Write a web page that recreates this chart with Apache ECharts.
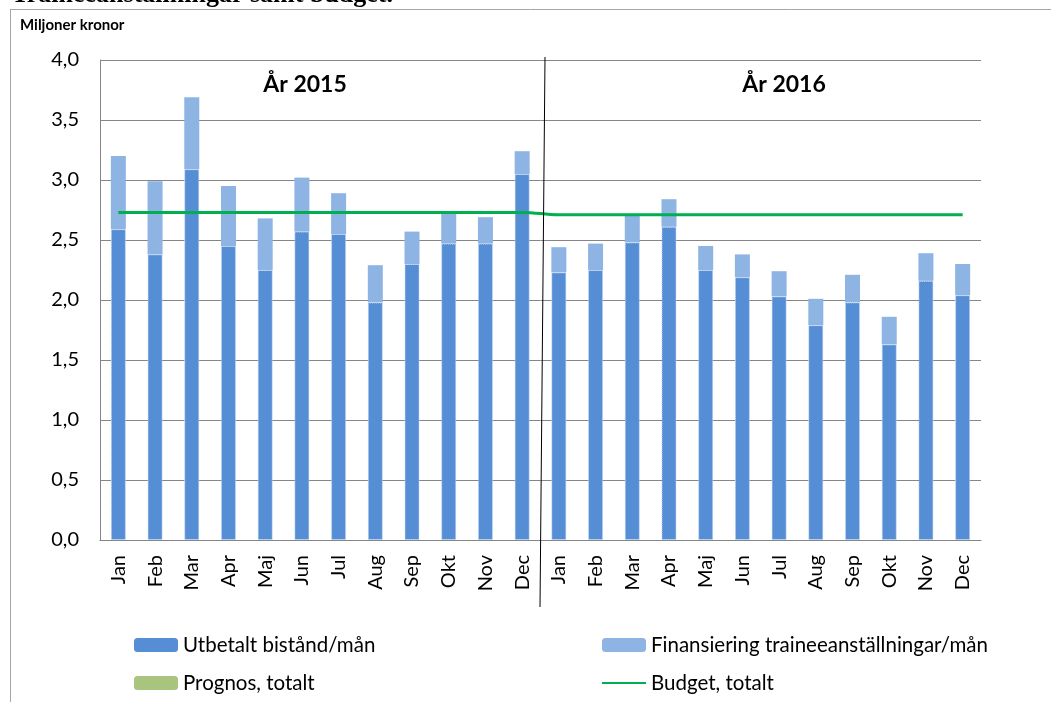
<!DOCTYPE html>
<html>
<head>
<meta charset="utf-8">
<script src="https://cdn.jsdelivr.net/npm/echarts@6/dist/echarts.min.js"></script>
<style>
  html, body { margin: 0; padding: 0; background: #fff; }
  #chart { width: 1051px; height: 702px; }
</style>
</head>
<body>
<div id="chart"></div>
<script>
var months = ['Jan', 'Feb', 'Mar', 'Apr', 'Maj', 'Jun', 'Jul', 'Aug', 'Sep', 'Okt', 'Nov', 'Dec',
  'Jan', 'Feb', 'Mar', 'Apr', 'Maj', 'Jun', 'Jul', 'Aug', 'Sep', 'Okt', 'Nov', 'Dec'];

// utbetalt bistånd per månad (mkr)
var utbetalt = [2.59, 2.38, 3.09, 2.45, 2.25, 2.57, 2.55, 1.98, 2.30, 2.47, 2.47, 3.05,
  2.23, 2.25, 2.48, 2.61, 2.25, 2.19, 2.03, 1.79, 1.98, 1.63, 2.16, 2.04];

// totalnivå (utbetalt + finansiering), finansiering räknas som skillnad
var totalt = [3.20, 2.99, 3.69, 2.95, 2.68, 3.02, 2.89, 2.29, 2.57, 2.73, 2.69, 3.24,
  2.44, 2.47, 2.70, 2.84, 2.45, 2.38, 2.24, 2.01, 2.21, 1.86, 2.39, 2.30];

var finansiering = totalt.map(function (t, i) { return +(t - utbetalt[i]).toFixed(2); });

var prognos = [];

var budget = [2.73, 2.73, 2.73, 2.73, 2.73, 2.73, 2.73, 2.73, 2.73, 2.73, 2.73, 2.73,
  2.71, 2.71, 2.71, 2.71, 2.71, 2.71, 2.71, 2.71, 2.71, 2.71, 2.71, 2.71];

var yTicks = { min: 0, max: 4, interval: 0.5 };

var font = 'Lato, "Open Sans", sans-serif';
var chart = echarts.init(document.getElementById('chart'));

var legendBase = {
  orient: 'vertical', top: 634, padding: 0, itemWidth: 44, itemHeight: 14, itemGap: 16,
  itemStyle: { borderWidth: 0 },
  textStyle: { color: '#000', fontSize: 20.5, fontFamily: font, lineHeight: 22 }
};

var option = {
  animation: false,
  grid: { left: 100, right: 70, top: 60, bottom: 162 },
  xAxis: {
    type: 'category',
    data: months,
    axisLine: { lineStyle: { color: '#868686', width: 1 } },
    axisTick: { show: false },
    axisLabel: { rotate: 90, margin: 15, color: '#000', fontSize: 20, fontFamily: font, interval: 0 }
  },
  yAxis: {
    type: 'value',
    min: yTicks.min,
    max: yTicks.max,
    interval: yTicks.interval,
    axisLine: { show: true, lineStyle: { color: '#868686', width: 1 } },
    axisTick: { show: false },
    splitLine: { lineStyle: { color: '#868686', width: 1 } },
    axisLabel: {
      margin: 21, color: '#000', fontSize: 20, fontFamily: font,
      formatter: function (v) { return v.toFixed(1).replace('.', ','); }
    }
  },
  legend: [
    Object.assign({}, legendBase, {
      left: 134,
      data: ['Utbetalt bistånd/mån', 'Prognos, totalt']
    }),
    Object.assign({}, legendBase, {
      left: 601,
      data: ['Finansiering traineeanställningar/mån',
        { name: 'Budget, totalt', itemStyle: { color: 'rgba(0,0,0,0)', borderWidth: 0 } }]
    })
  ],
  series: [
    {
      name: 'Utbetalt bistånd/mån',
      type: 'bar',
      stack: 'total',
      barWidth: 15,
      data: utbetalt,
      itemStyle: { color: '#558ed5', borderColor: '#c6d9f1', borderWidth: 1, borderType: 'dotted' }
    },
    {
      name: 'Finansiering traineeanställningar/mån',
      type: 'bar',
      stack: 'total',
      barWidth: 15,
      data: finansiering,
      itemStyle: { color: '#8eb4e3' }
    },
    {
      name: 'Prognos, totalt',
      type: 'bar',
      stack: 'total',
      barWidth: 15,
      data: prognos,
      itemStyle: { color: '#a9c47f' }
    },
    {
      name: 'Budget, totalt',
      type: 'line',
      data: budget,
      symbol: 'none',
      smooth: 0.4,
      lineStyle: { color: '#00b050', width: 3 },
      itemStyle: { color: '#00b050' }
    }
  ],
  graphic: [
    { type: 'line', shape: { x1: 10.5, y1: 10, x2: 10.5, y2: 702 }, style: { stroke: '#a6a6a6', lineWidth: 1 } },
    { type: 'line', shape: { x1: 10, y1: 9.5, x2: 1051, y2: 9.5 }, style: { stroke: '#a6a6a6', lineWidth: 1 } },
    { type: 'line', shape: { x1: 545, y1: 57, x2: 540, y2: 607 }, style: { stroke: '#000', lineWidth: 1 }, z: 10 },
    {
      type: 'text', left: 20, top: 18,
      style: { text: 'Miljoner kronor', fill: '#000', font: 'bold 15px ' + font }
    },
    {
      type: 'text', x: 305, y: 85, z: 10,
      style: { text: 'År 2015', fill: '#000', font: 'bold 23px ' + font, textAlign: 'center', textVerticalAlign: 'middle' }
    },
    {
      type: 'text', x: 784, y: 85, z: 10,
      style: { text: 'År 2016', fill: '#000', font: 'bold 23px ' + font, textAlign: 'center', textVerticalAlign: 'middle' }
    },
    {
      type: 'text', x: 393, y: 8,
      style: { text: 'Traineeanställningar samt budget.', fill: '#000', font: 'bold 26px "Liberation Serif", serif', textAlign: 'right', textVerticalAlign: 'bottom' }
    }
  ]
};

chart.setOption(option);
</script>
</body>
</html>
